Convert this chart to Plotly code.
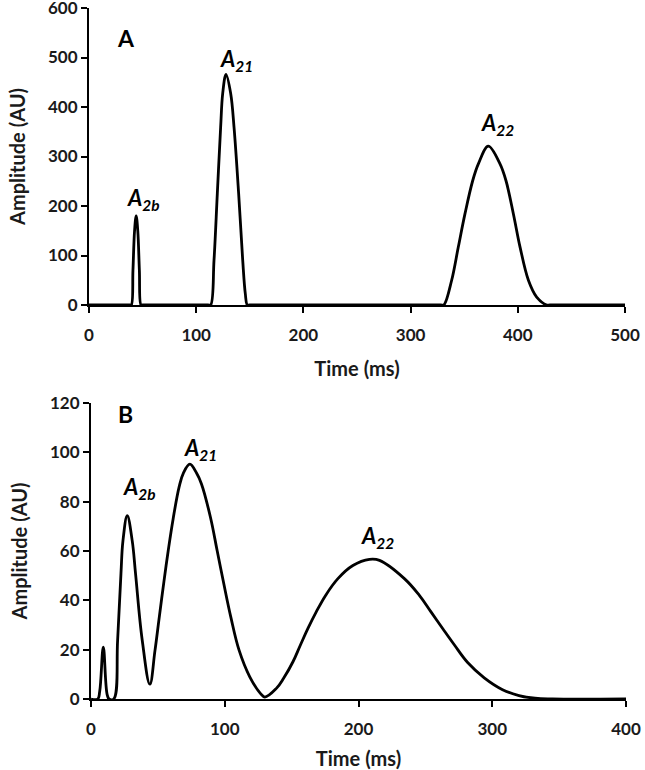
import plotly.graph_objects as go

# ---------------- Panel A data (Time ms, Amplitude AU) ----------------
a_time = [0, 38, 39.5, 41, 42.5, 44, 45.5, 47, 48.5, 50,
          111, 113.5, 116.6, 119.7, 122.8, 124.7, 127.8, 132.2, 135.3, 139.6, 143.4, 145.8, 147.7, 150,
          328, 331, 338.3, 344.5, 350.7, 357.9, 363.2, 372.5, 383.4, 389, 395.9, 402.1, 409.9, 417.6, 427, 430, 500]
a_amp = [0, 0, 0, 70, 150, 180, 150, 70, 0, 0,
         0, 0, 90, 225, 359, 427, 466, 427, 359, 225, 90, 23, 0, 0,
         0, 0, 50, 117, 184, 251, 285, 321, 285, 251, 184, 117, 50, 16, 0, 0, 0]

# ---------------- Panel B data ----------------
b_time = [0, 5, 6.5, 9.2, 12, 13.5, 17, 19.9, 22.4, 23.9, 27.1, 30.8, 33.3, 38.3, 44,
          47.8, 51, 54.5, 57.7, 61.4, 65.9, 69, 73.9, 79, 82.6, 89.3, 94.3, 99.3, 104.5, 110.7, 118.7,
          126.6, 130, 138.6, 144, 151, 156.5, 162.2, 168.4, 175.4, 184.6, 195.8, 208.2, 215.7, 234.3,
          245.5, 254.2, 262.9, 271.6, 281.6, 294, 307.7, 320, 332, 345, 400]
b_amp = [0, 0, 3, 21, 2, 0, 0, 23.8, 50.8, 64.2, 74.3, 64.2, 50.8, 23.8, 6,
         19.5, 33, 47.5, 60, 73, 86, 91.5, 95.2, 91.5, 87.2, 73.7, 60.2, 46.7, 33.3, 19.8, 9,
         2.3, 0.8, 4.3, 8.4, 15.1, 21.8, 28.6, 35.3, 42, 48.8, 54.1, 56.6, 56.2, 48.8,
         42, 35.3, 28.6, 22, 14.8, 8.6, 3.8, 1.4, 0.3, 0, 0]

a_xticks = [0, 100, 200, 300, 400, 500]
a_yticks = [0, 100, 200, 300, 400, 500, 600]
b_xticks = [0, 100, 200, 300, 400]
b_yticks = [0, 20, 40, 60, 80, 100, 120]

a_labels = [("A", "2b", 51.3, 215), ("A", "21", 138, 494), ("A", "22", 381.5, 365)]
b_labels = [("A", "2b", 36.6, 85.5), ("A", "21", 82, 101.3), ("A", "22", 214, 65.5)]

FONT = "Lato"
W, H = 645, 770
ML, MR, MT, MB = 89, 19, 8, 71
PW, PH = W - ML - MR, H - MT - MB

fig = go.Figure()
fig.add_trace(go.Scatter(x=a_time, y=a_amp, mode="lines", xaxis="x", yaxis="y",
                         line=dict(color="black", width=2.8, shape="spline", smoothing=1.0),
                         showlegend=False, hoverinfo="skip"))
fig.add_trace(go.Scatter(x=b_time, y=b_amp, mode="lines", xaxis="x2", yaxis="y2",
                         line=dict(color="black", width=2.8, shape="spline", smoothing=1.1),
                         showlegend=False, hoverinfo="skip"))

axis_common = dict(showgrid=False, zeroline=False, showline=True, linecolor="black", linewidth=2,
                   ticks="outside", ticklen=6, tickwidth=2, tickcolor="black", automargin=False,
                   ticklabeloverflow="allow",
                   tickfont=dict(family=FONT, size=17, color="#1a1a1a"),
                   title_font=dict(family=FONT, size=20, color="#1a1a1a"))

xdomA = [0, (625 - ML) / PW]
xdomB = [(91 - ML) / PW, 1]
yA = [(MT + PH - 305) / PH, 1]
yB = [0, (MT + PH - 403) / PH]

fig.update_layout(
    width=W, height=H, margin=dict(l=ML, r=MR, t=MT, b=MB),
    paper_bgcolor="white", plot_bgcolor="white",
    font=dict(family=FONT, color="#1a1a1a"),
    xaxis=dict(domain=xdomA, anchor="y", range=[0, 500], tickvals=a_xticks,
               ticktext=[f"<b>{v}</b>" for v in a_xticks], ticklabelstandoff=8,
               title=dict(text="<b>Time (ms)</b>", standoff=18), **axis_common),
    yaxis=dict(domain=yA, anchor="x", range=[0, 600], tickvals=a_yticks,
               ticktext=[f"<b>{v}</b>" for v in a_yticks], ticklabelstandoff=0,
               title=dict(text="<b>Amplitude (AU)</b>", standoff=17), **axis_common),
    xaxis2=dict(domain=xdomB, anchor="y2", range=[0, 400], tickvals=b_xticks,
                ticktext=[f"<b>{v}</b>" for v in b_xticks], ticklabelstandoff=8,
                title=dict(text="<b>Time (ms)</b>", standoff=18), **axis_common),
    yaxis2=dict(domain=yB, anchor="x2", range=[0, 120], tickvals=b_yticks,
                ticktext=[f"<b>{v}</b>" for v in b_yticks], ticklabelstandoff=0,
                title=dict(text="<b>Amplitude (AU)</b>", standoff=17), **axis_common),
)

ann = []
for (m, s, x, y) in a_labels:
    ann.append(dict(x=x, y=y, xref="x", yref="y", showarrow=False,
                    text=f"<b><i>{m}<sub>{s}</sub></i></b>",
                    font=dict(family=FONT, size=22, color="black")))
for (m, s, x, y) in b_labels:
    ann.append(dict(x=x, y=y, xref="x2", yref="y2", showarrow=False,
                    text=f"<b><i>{m}<sub>{s}</sub></i></b>",
                    font=dict(family=FONT, size=22, color="black")))
ann.append(dict(x=(115 - 89) / 536, y=(305 - 22) / 297, xref="x domain", yref="y domain",
                showarrow=False, text="<b>A</b>", font=dict(family=FONT, size=23, color="black")))
ann.append(dict(x=(116 - 91) / 535, y=(699 - 398) / 296, xref="x2 domain", yref="y2 domain",
                showarrow=False, text="<b>B</b>", font=dict(family=FONT, size=23, color="black")))
fig.update_layout(annotations=ann)

fig.write_html("out.html", config={"displayModeBar": False},
               post_script="document.body.style.margin='0px';document.body.style.overflow='hidden';")
